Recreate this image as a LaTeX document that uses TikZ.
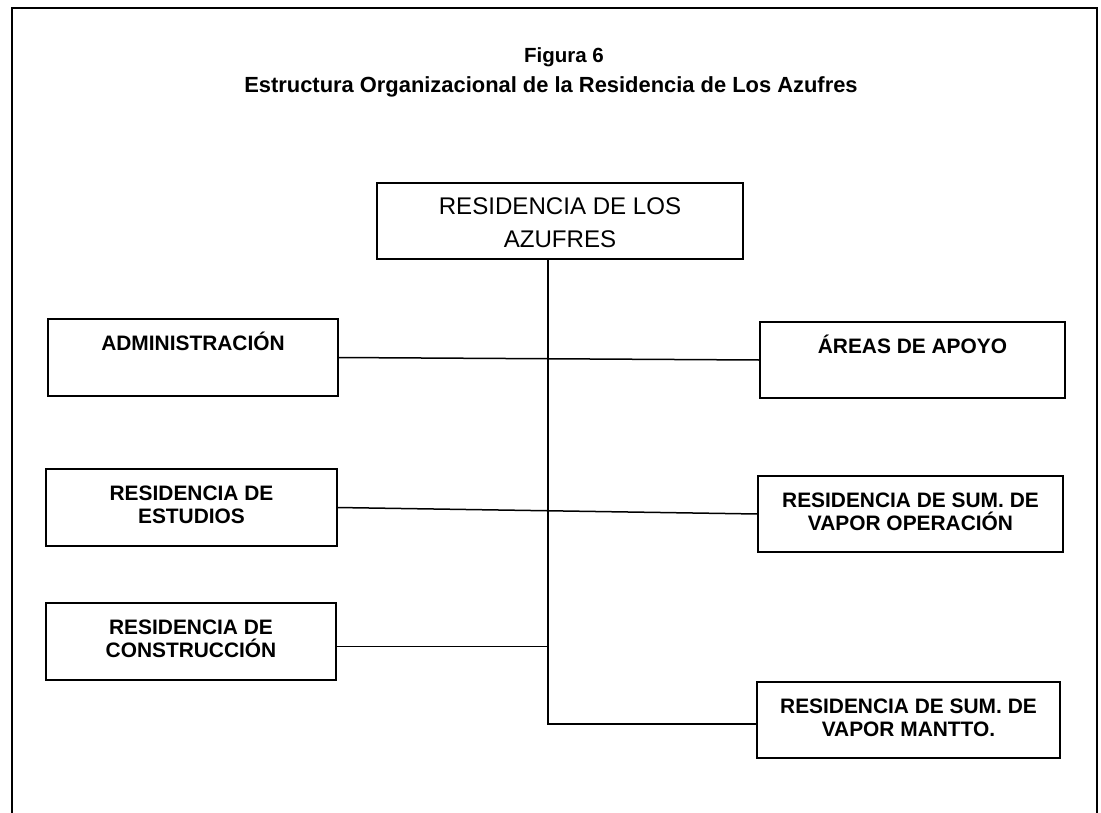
\documentclass[tikz,border=0pt]{standalone}
\usepackage{fontspec}
\setmainfont{Liberation Sans}
\usetikzlibrary{positioning,calc}

% texto de cada caja, alineado arriba
\newcommand{\rotulo}[3]{\parbox[c][#2][t]{#1}{\centering\rule{0pt}{31pt}#3}}

\begin{document}
\begin{tikzpicture}[x=1pt,y=-1pt,
    caja/.style={draw,line width=1.8pt,inner sep=0pt,outer sep=0pt,anchor=north west,
      font=\fontsize{20.9pt}{23pt}\selectfont\bfseries},
    titulo/.style={anchor=base,font=\fontsize{20.5pt}{24pt}\selectfont\bfseries},
    linea/.style={line width=1.5pt}]
\useasboundingbox (0,0) rectangle (1101,812);
\draw[line width=1.8pt] (12,830) -- (12,8) -- (1097,8) -- (1097,830);

\node[titulo] (fig) at (564,62) {Figura 6};
\node[titulo,font=\fontsize{21.9pt}{24pt}\selectfont\bfseries] (tit) at (551,92)
    {Estructura Organizacional de la Residencia de Los Azufres};

\node[caja,font=\fontsize{24.1pt}{33pt}\selectfont] (res) at (377,183)
    {\rotulo{366pt}{76pt}{RESIDENCIA DE LOS\\AZUFRES}};

\node[caja] (adm) at (48,319) {\rotulo{290pt}{77pt}{ADMINISTRACIÓN}};
\node[caja] (est) at (46,469) {\rotulo{291pt}{77pt}{RESIDENCIA DE\\ESTUDIOS}};
\node[caja] (con) at (46,603) {\rotulo{290pt}{77pt}{RESIDENCIA DE\\CONSTRUCCIÓN}};

\node[caja] (apo) at (760,322) {\rotulo{305pt}{76pt}{ÁREAS DE APOYO}};
\node[caja] (ope) at (758,476) {\rotulo{305pt}{76pt}{RESIDENCIA DE SUM. DE\\VAPOR OPERACIÓN}};
\node[caja] (man) at (757,682) {\rotulo{303pt}{76pt}{RESIDENCIA DE SUM. DE\\VAPOR MANTTO.}};

\coordinate (eje) at (548,724);
\draw[linea] (res.south -| eje) -- (eje) -- (eje -| man.west);
\draw[linea] (adm.east) -- (apo.west);
\draw[linea] (est.east) -- (ope.west);
\draw[linea] ([yshift=-5pt]con.east) -- ([yshift=-5pt]con.east -| eje);
\end{tikzpicture}
\end{document}
